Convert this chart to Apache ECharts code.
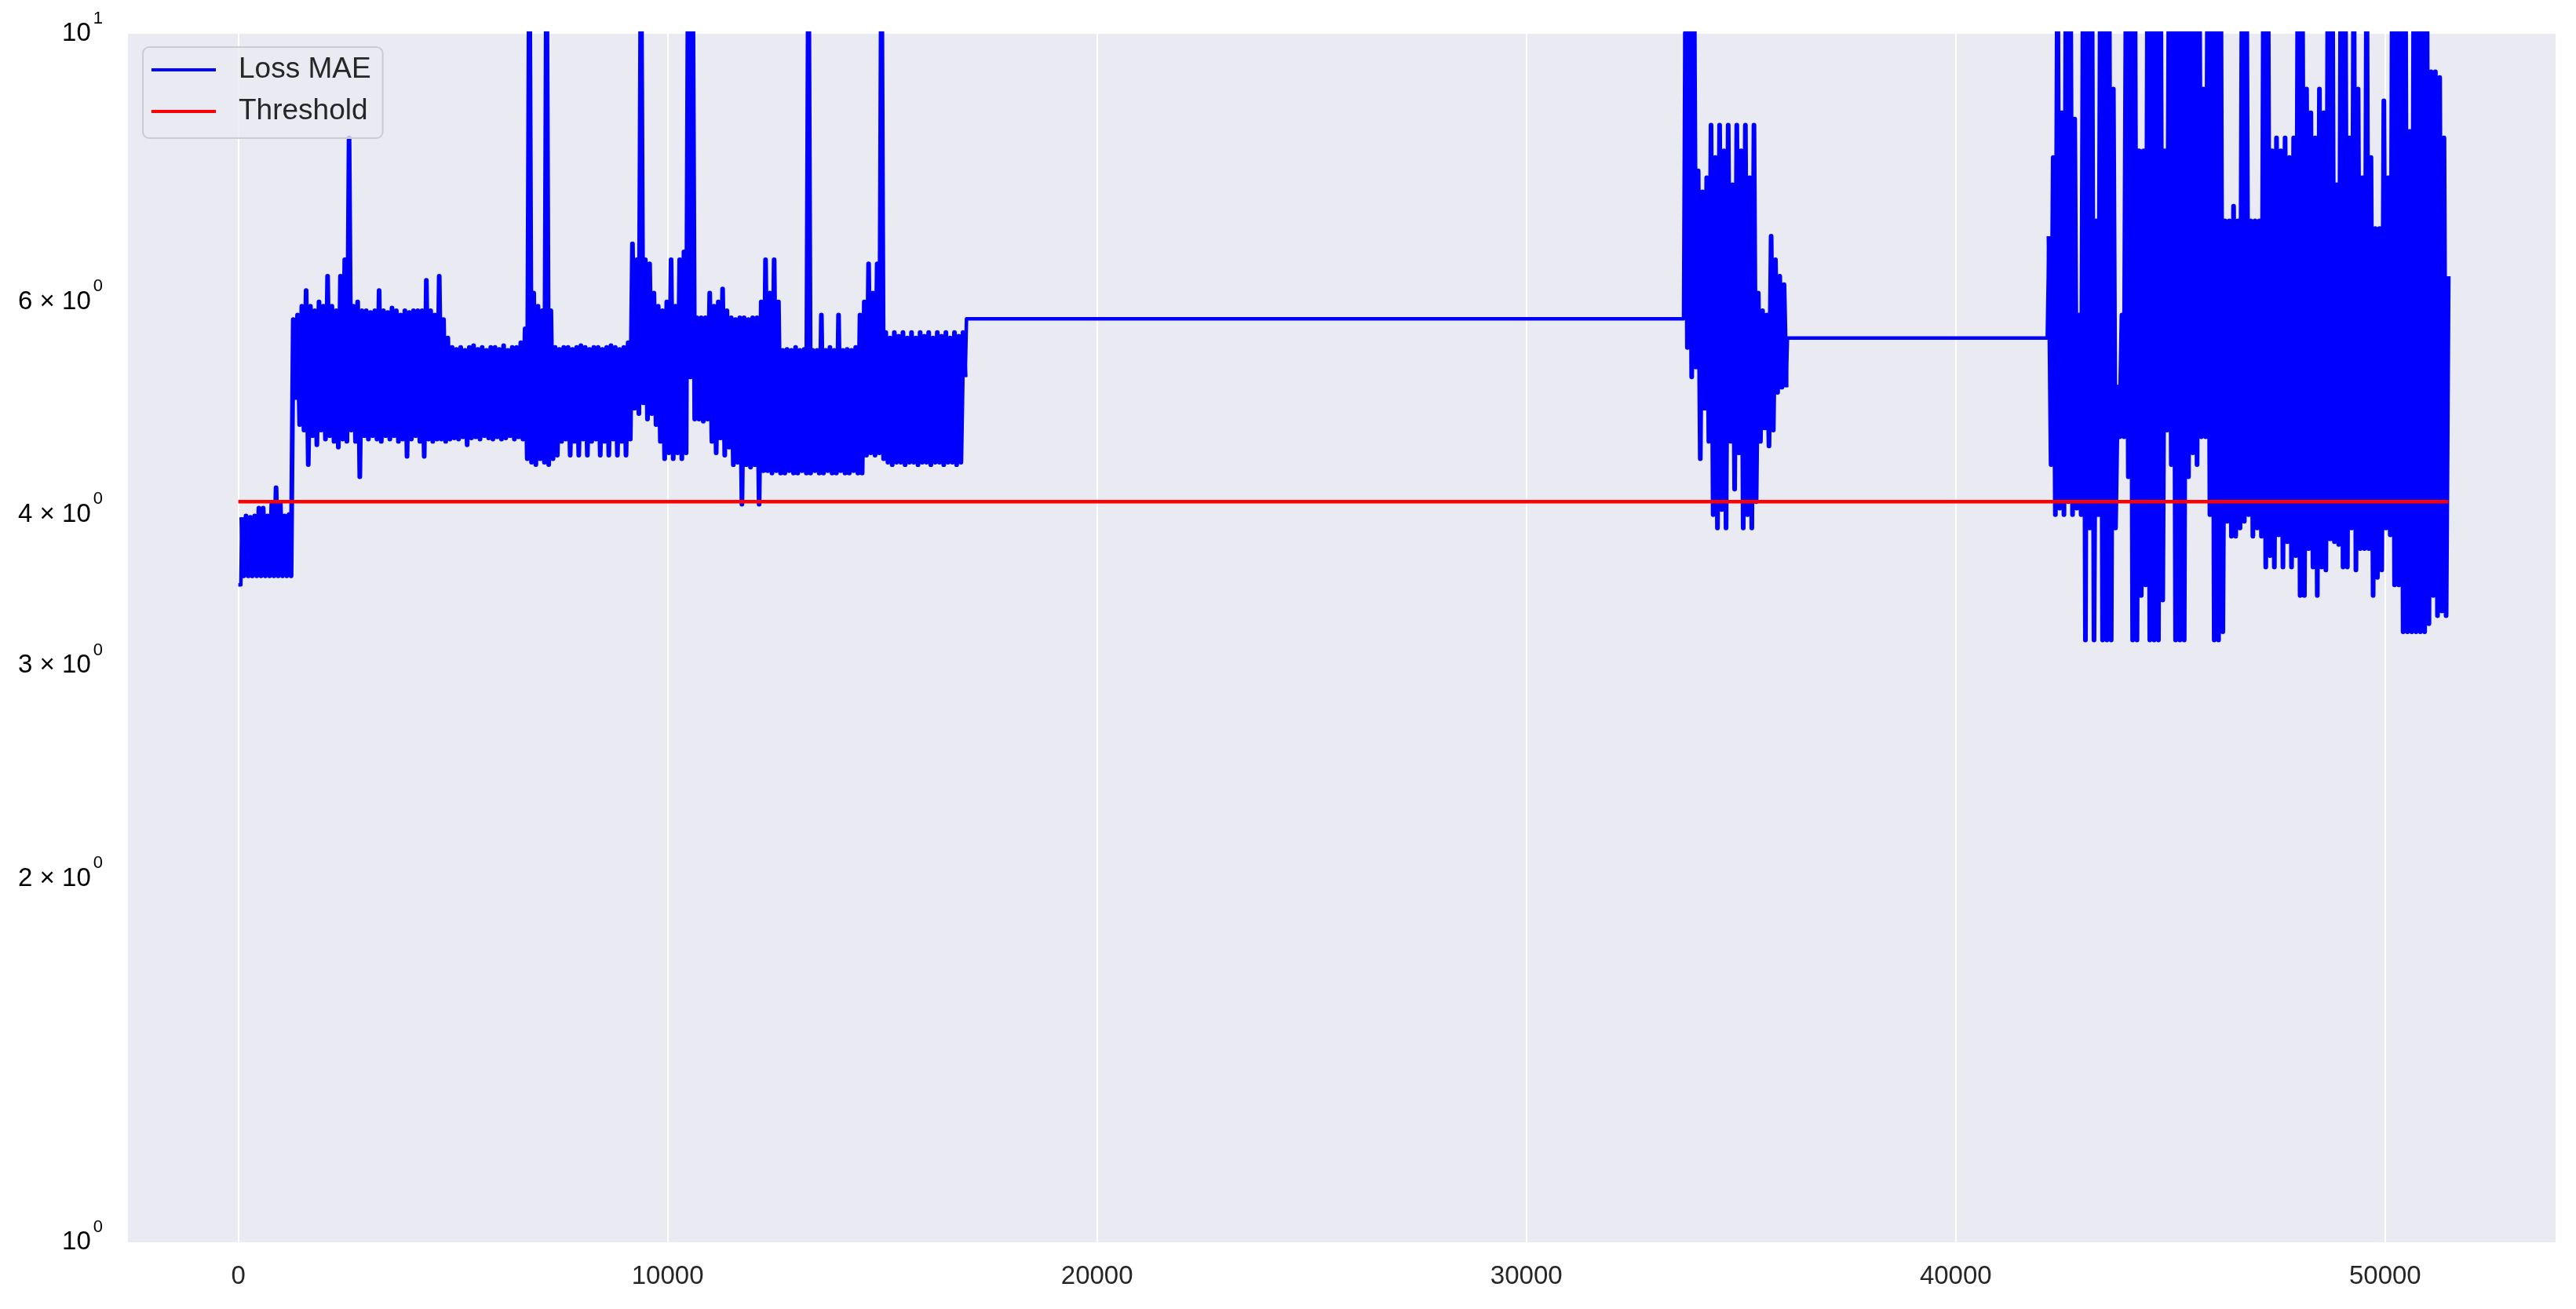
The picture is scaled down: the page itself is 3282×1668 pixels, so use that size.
<!DOCTYPE html>
<html>
<head>
<meta charset="utf-8">
<script src="https://cdn.jsdelivr.net/npm/echarts@6/dist/echarts.min.js"></script>
<style>
  html, body { margin: 0; padding: 0; background: #ffffff; }
  #chart { width: 3282px; height: 1668px; }
</style>
</head>
<body>
<div id="chart"></div>
<script>
// ---------------- data ----------------
const seriesNames = ['Loss MAE', 'Threshold'];
const STEP = 50;                       // sample spacing used for the dense parts
const thresholdValue = 4.1;
const xExtent = [0, 51470];
const xTickLabels = ['0', '10000', '20000', '30000', '40000', '50000'];
const yTickValues = [1, 2, 3, 4, 6, 10];
const yTickMantissa = ['', '2 × ', '3 × ', '4 × ', '6 × ', ''];
const yTickExponent = ['0', '0', '0', '0', '0', '1'];

const lossLeadIn = [[0, 3.5], [60, 3.5]];
const seg0Start = 80;
const seg0Vals = [
  3.98, 3.56, 3.99, 3.56, 3.98, 3.56, 3.99, 3.56, 4.05, 3.56, 4.05, 3.56,
  3.99, 3.56, 4.08, 3.56, 4.21, 3.56, 4.08, 3.56, 3.99, 3.56, 4.0, 3.56
];
const seg1Start = 1280;
const seg1Vals = [
  5.8, 5.0, 5.85, 4.75, 5.95, 4.7, 6.13, 4.4, 5.95, 4.65, 5.9, 4.57, 6.0, 4.7, 5.95, 4.62,
  6.3, 4.65, 5.95, 4.6, 5.9, 4.55, 6.3, 4.62, 6.5, 4.6, 8.2, 4.7, 5.95, 4.6, 6.0, 4.3,
  5.9, 4.65, 5.9, 4.62, 5.88, 4.65, 5.9, 4.62, 6.13, 4.6, 5.9, 4.65, 5.88, 4.62, 5.93, 4.65,
  5.9, 4.6, 5.85, 4.62, 5.9, 4.47, 5.88, 4.62, 5.9, 4.65, 5.9, 4.6, 5.9, 4.47, 6.25, 4.62,
  5.9, 4.6, 5.85, 4.62, 6.3, 4.62, 5.8, 4.6, 5.6, 4.62, 5.5, 4.63, 5.48, 4.62, 5.5, 4.64,
  5.47, 4.57, 5.5, 4.63, 5.52, 4.64, 5.48, 4.62, 5.5, 4.65, 5.47, 4.63, 5.5, 4.62, 5.5, 4.64,
  5.48, 4.62, 5.52, 4.63, 5.47, 4.65, 5.5, 4.62, 5.5, 4.64, 5.55, 4.62, 5.7, 4.45, 12, 4.42,
  6.1, 4.4, 5.95, 4.45, 5.9, 4.42, 12, 4.4, 5.9, 4.45, 5.5, 4.48, 5.48, 4.6, 5.5, 4.62,
  5.5, 4.48, 5.48, 4.6, 5.5, 4.48, 5.52, 4.62, 5.5, 4.48, 5.48, 4.6, 5.5, 4.62, 5.5, 4.48,
  5.48, 4.6, 5.5, 4.48, 5.52, 4.62, 5.5, 4.48, 5.48, 4.6, 5.5, 4.48, 5.55, 4.62, 6.7, 4.9,
  6.5, 4.85, 12, 4.95, 6.5, 4.8, 6.45, 4.85, 6.1, 4.75, 5.95, 4.6, 5.9, 4.45, 6.0, 4.5,
  6.5, 4.45, 5.95, 4.5, 6.5, 4.45, 6.6, 4.5, 12, 5.2, 12, 4.8, 5.82, 4.8, 5.82, 4.78,
  5.82, 4.8, 6.1, 4.6, 5.95, 4.5, 6.0, 4.63, 6.15, 4.48, 5.9, 4.55, 5.82, 4.4, 5.8, 4.42,
  5.82, 4.08, 5.82, 4.4, 5.8, 4.38, 5.82, 4.4, 5.82, 4.08, 6.0, 4.35, 6.5, 4.35, 6.1, 4.33,
  6.5, 4.35, 6.0, 4.33, 5.47, 4.33, 5.48, 4.35, 5.47, 4.33, 5.5, 4.33, 5.47, 4.35, 5.48, 4.33,
  12, 4.33, 5.47, 4.35, 5.47, 4.33, 5.85, 4.33, 5.47, 4.35, 5.5, 4.33, 5.47, 4.33, 5.85, 4.35,
  5.47, 4.33, 5.48, 4.33, 5.47, 4.35, 5.5, 4.33, 5.85, 4.33, 6.0, 4.48, 6.45, 4.5, 6.1, 4.48,
  6.45, 4.5, 12, 4.45, 5.66, 4.42, 5.6, 4.4, 5.66, 4.42, 5.62, 4.42, 5.66, 4.4, 5.6, 4.42,
  5.66, 4.42, 5.6, 4.4, 5.66, 4.42, 5.62, 4.42, 5.66, 4.4, 5.6, 4.42, 5.66, 4.42, 5.62, 4.4,
  5.66, 4.42, 5.6, 4.42, 5.66, 4.4, 5.62, 4.42, 5.66, 5.2
];
const flat1 = [[16960, 5.81], [33660, 5.81]];
const seg3Start = 33700;
const seg3Vals = [
  12, 5.5, 12, 5.2, 12, 5.3, 7.7, 4.45, 7.4, 4.9, 7.6, 4.6, 8.4, 4.0, 7.9, 3.9,
  8.4, 4.04, 8.0, 3.9, 8.4, 4.6, 7.5, 4.2, 8.4, 4.5, 8.0, 3.9, 8.4, 4.0, 7.6, 3.9,
  8.4, 4.1, 6.1, 4.6, 5.9, 4.72, 5.85, 4.56, 6.8, 4.7, 6.5, 5.05, 6.3, 5.1, 6.2, 5.1
];
const flat2 = [[36080, 5.6], [42130, 5.6]];
const seg4Start = 42170;
const seg4Vals = [
  6.8, 4.4, 7.9, 4.0, 12, 4.05, 8.6, 4.0, 12, 4.1, 12, 4.0, 8.5, 4.05, 5.85, 4.0,
  12, 3.15, 12, 3.9, 12, 3.15, 7.0, 4.0, 12, 3.15, 12, 3.15, 12, 3.15, 9.0, 3.9,
  5.1, 4.64, 5.85, 4.64, 12, 4.3, 12, 3.15, 12, 3.15, 8.0, 3.43, 8.0, 3.5, 12, 3.15,
  12, 3.15, 12, 3.15, 12, 3.4, 8.0, 4.7, 12, 4.4, 12, 3.15, 12, 3.15, 12, 3.15,
  12, 4.3, 12, 4.5, 12, 4.4, 12, 4.64, 9.0, 4.64, 12, 4.0, 12, 3.15, 12, 3.15,
  12, 3.2, 7.0, 3.95, 7.0, 3.84, 7.2, 3.84, 7.0, 3.9, 12, 3.95, 12, 4.0, 7.0, 3.84,
  7.0, 3.9, 7.0, 3.84, 12, 3.62, 12, 3.7, 8.0, 3.62, 8.2, 3.85, 8.0, 3.62, 8.2, 3.8,
  7.9, 3.62, 8.2, 3.7, 12, 3.43, 12, 3.43, 9.0, 3.75, 8.6, 3.62, 8.2, 3.43, 9.0, 3.62,
  8.6, 3.6, 12, 3.82, 12, 3.8, 7.5, 3.78, 12, 3.62, 12, 3.62, 8.2, 3.9, 12, 3.6,
  9.0, 3.75, 7.6, 3.75, 12, 3.75, 7.9, 3.43, 6.9, 3.55, 6.9, 3.6, 8.8, 3.9, 7.6, 3.85,
  12, 3.5, 12, 3.5, 12, 3.2, 12, 3.2, 8.3, 3.2, 12, 3.2, 12, 3.2, 12, 3.2,
  12, 3.25, 9.3, 3.43, 9.3, 3.3, 9.2, 3.33, 8.2, 3.3, 6.3
];

// ---------------- build ----------------
function seg(start, vals) { return vals.map((v, i) => [start + i * STEP, v]); }
const s0 = seg(seg0Start, seg0Vals), s1 = seg(seg1Start, seg1Vals);
const s3 = seg(seg3Start, seg3Vals), s4 = seg(seg4Start, seg4Vals);
// dense (oscillating) stretches of the loss curve
const lossDense = [].concat(s0, s1, [[s1[s1.length - 1][0] + 1, null]], s3, [[s3[s3.length - 1][0] + 1, null]], s4);
// quiet stretches of the loss curve, joined to the neighbouring dense samples
const lossQuiet = [].concat(
  lossLeadIn, [s0[0]], [[s0[0][0] + 1, null]],
  [s1[s1.length - 1]], flat1, [s3[0]], [[s3[0][0] + 1, null]],
  [s3[s3.length - 1]], flat2, [s4[0]]
);
const thresholdData = [[xExtent[0], thresholdValue], [xExtent[1], thresholdValue]];

const FONT = '"Liberation Sans", Arial, Helvetica, sans-serif';
const TEXT = '#262626';

const chart = echarts.init(document.getElementById('chart'), null, { renderer: 'canvas' });
const option = {
  animation: false,
  backgroundColor: '#ffffff',
  grid: {
    left: 163, right: 26, top: 43, bottom: 85,
    show: true, backgroundColor: '#EAEAF2', borderWidth: 0,
    containLabel: false, outerBoundsMode: 'none'
  },
  legend: {
    data: seriesNames,
    orient: 'vertical',
    left: 182, top: 60,
    icon: 'rect',
    itemWidth: 82, itemHeight: 4, itemGap: 13,
    padding: [9, 15, 14, 11],
    backgroundColor: 'rgba(234,234,242,0.8)',
    borderColor: '#cccccc', borderWidth: 2, borderRadius: 8,
    textStyle: { fontFamily: FONT, fontSize: 37, color: TEXT, lineHeight: 40, padding: [0, 0, 0, 24] }
  },
  xAxis: {
    type: 'value',
    min: -2570, max: 53970,
    splitNumber: 5,
    axisLine: { show: false }, axisTick: { show: false },
    axisLabel: {
      show: true, margin: 27, fontFamily: FONT, fontSize: 33, color: TEXT,
      showMinLabel: false, showMaxLabel: false,
      formatter: (v) => { const s = String(Math.round(v)); return xTickLabels.indexOf(s) >= 0 ? s : ''; }
    },
    splitLine: { show: true, showMinLine: false, showMaxLine: false, lineStyle: { color: '#ffffff', width: 2 } }
  },
  yAxis: {
    type: 'log', logBase: 10, min: 1, max: 10,
    axisLine: { show: false }, axisTick: { show: false },
    axisLabel: { show: false },
    splitLine: { show: false }
  },
  series: [
    {
      name: seriesNames[0], type: 'line', data: lossDense,
      symbol: 'none', showSymbol: false, clip: true, connectNulls: false,
      color: '#0000ff',
      lineStyle: { color: '#0000ff', width: 6, join: 'round' },
      itemStyle: { color: '#0000ff' },
      z: 2
    },
    {
      name: seriesNames[0], type: 'line', data: lossQuiet,
      symbol: 'none', showSymbol: false, clip: true, connectNulls: false,
      color: '#0000ff',
      lineStyle: { color: '#0000ff', width: 4.5, join: 'round' },
      itemStyle: { color: '#0000ff' },
      z: 2
    },
    {
      name: seriesNames[1], type: 'line', data: thresholdData,
      symbol: 'none', showSymbol: false, clip: true,
      color: '#ff0000',
      lineStyle: { color: '#ff0000', width: 4.5 },
      itemStyle: { color: '#ff0000' },
      z: 3
    }
  ]
};
chart.setOption(option);

// y tick labels in matplotlib's "m × 10^e" style, positioned through the log axis
const yLabels = yTickValues.map((v, i) => ({
  type: 'text',
  x: 131,
  y: chart.convertToPixel({ yAxisIndex: 0 }, v),
  z: 10,
  style: {
    text: '{b|' + yTickMantissa[i] + '10}{s|' + yTickExponent[i] + '}',
    align: 'right', verticalAlign: 'middle',
    rich: {
      b: { fontFamily: FONT, fontSize: 33, lineHeight: 33, color: TEXT, verticalAlign: 'bottom' },
      s: { fontFamily: FONT, fontSize: 22, lineHeight: 22, color: TEXT, verticalAlign: 'bottom', padding: [0, 0, 25, 3] }
    }
  }
}));
chart.setOption({ graphic: yLabels });
</script>
</body>
</html>
